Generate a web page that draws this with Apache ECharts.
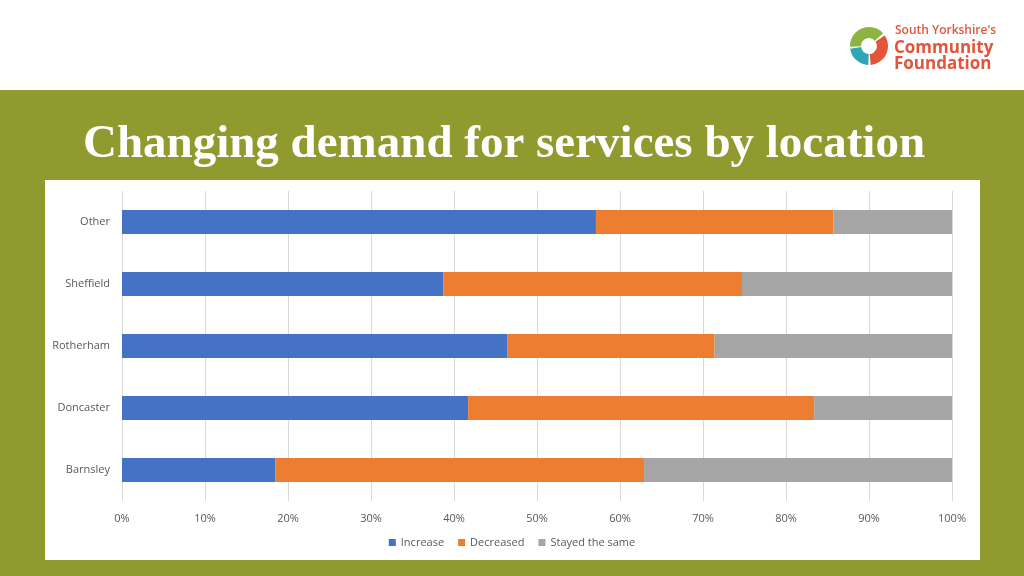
<!DOCTYPE html>
<html><head><meta charset="utf-8">
<script src="https://cdn.jsdelivr.net/npm/echarts@6/dist/echarts.min.js"></script>
<style>html,body{margin:0;padding:0;}#c{width:1024px;height:576px;}</style>
</head><body><div id="c"></div>
<script>
const categories = ['Barnsley', 'Doncaster', 'Rotherham', 'Sheffield', 'Other'];
const increase = [18.5, 41.7, 46.4, 38.7, 57.1];
const decreased = [44.4, 41.7, 25.0, 36.0, 28.6];
const stayedSame = [37.1, 16.6, 28.6, 25.3, 14.3];
const xTicks = [0, 10, 20, 30, 40, 50, 60, 70, 80, 90, 100];

const chart = echarts.init(document.getElementById('c'), null, {renderer: 'canvas'});
const lbl = {color: '#595959', fontSize: 11, fontFamily: 'Open Sans'};
const orange = '#e2553b';
const d = Math.PI / 180;
chart.setOption({
  backgroundColor: '#919a2e',
  animation: false,
  graphic: [
    {type: 'rect', z: -100, shape: {x: 0, y: 0, width: 1024, height: 90}, style: {fill: '#ffffff'}},
    {type: 'rect', z: -100, shape: {x: 45, y: 180, width: 935, height: 380}, style: {fill: '#ffffff'}},
    {type: 'text', z: 10, x: 504, y: 145, style: {text: 'Changing demand for services by location', fill: '#ffffff', font: 'bold 47px "Liberation Serif"', align: 'center', verticalAlign: 'middle'}},
    {type: 'arc', z: 10, shape: {cx: 869, cy: 46, r: 13.5, startAngle: 178 * d, endAngle: 318 * d}, style: {stroke: '#8db440', lineWidth: 11, fill: null}},
    {type: 'arc', z: 10, shape: {cx: 869, cy: 46, r: 13.5, startAngle: 326 * d, endAngle: 445 * d}, style: {stroke: '#e2553b', lineWidth: 11, fill: null}},
    {type: 'arc', z: 10, shape: {cx: 869, cy: 46, r: 13.5, startAngle: 92 * d, endAngle: 172 * d}, style: {stroke: '#2ea6b6', lineWidth: 11, fill: null}},
    {type: 'text', z: 10, x: 895, y: 31, style: {text: "South Yorkshire's", fill: orange, font: '600 12px "Open Sans"', verticalAlign: 'middle'}},
    {type: 'text', z: 10, x: 894, y: 48, style: {text: 'Community', fill: orange, font: 'bold 17px "Open Sans"', verticalAlign: 'middle'}},
    {type: 'text', z: 10, x: 894, y: 64, style: {text: 'Foundation', fill: orange, font: 'bold 17px "Open Sans"', verticalAlign: 'middle'}}
  ],
  grid: {left: 122, right: 72, top: 191, bottom: 75, containLabel: false},
  legend: {
    bottom: 23, left: 'center', itemWidth: 7, itemHeight: 7, itemGap: 14, icon: 'rect',
    textStyle: {color: '#595959', fontSize: 11, fontFamily: 'Open Sans'},
    data: ['Increase', 'Decreased', 'Stayed the same']
  },
  xAxis: {
    type: 'value', min: 0, max: 100, interval: 10,
    axisLabel: Object.assign({formatter: v => xTicks.includes(v) ? v + '%' : '', margin: 12}, lbl),
    axisLine: {show: false}, axisTick: {show: false},
    splitLine: {lineStyle: {color: '#d9d9d9', width: 1}}
  },
  yAxis: {
    type: 'category', data: categories,
    axisLabel: Object.assign({margin: 12}, lbl),
    axisLine: {show: false}, axisTick: {show: false}
  },
  series: [
    {name: 'Increase', type: 'bar', stack: 't', data: increase, barWidth: 24, itemStyle: {color: '#4472c4'}},
    {name: 'Decreased', type: 'bar', stack: 't', data: decreased, barWidth: 24, itemStyle: {color: '#ed7d31'}},
    {name: 'Stayed the same', type: 'bar', stack: 't', data: stayedSame, barWidth: 24, itemStyle: {color: '#a5a5a5'}}
  ]
});
</script></body></html>
